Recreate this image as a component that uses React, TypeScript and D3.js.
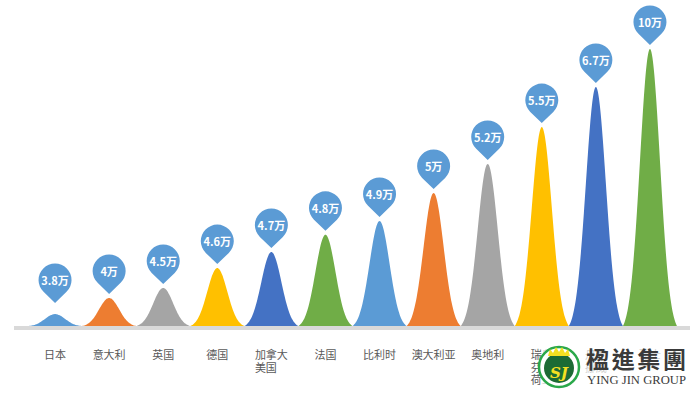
import React from 'react';
import * as d3 from 'd3';

const width = 696;
const height = 398;

// categories, value labels and the drawn peak level (0-100)
const countries = [
  '日本', '意大利', '英国', '德国', '加拿大美国', '法国',
  '比利时', '澳大利亚', '奥地利', '瑞典芬兰荷兰', '丹麦挪威', '瑞士'
];
const labelLines = [
  ['日本'], ['意大利'], ['英国'], ['德国'], ['加拿大', '美国'], ['法国'],
  ['比利时'], ['澳大利亚'], ['奥地利'], ['瑞典', '芬兰', '荷兰'], ['丹麦', '挪威'], ['瑞士']
];
const values = [3.8, 4, 4.5, 4.6, 4.7, 4.8, 4.9, 5, 5.2, 5.5, 6.7, 10];
const peakLevels = [4.3, 10.1, 13.7, 20.9, 26.7, 32.9, 37.9, 48, 58.5, 71.8, 86.3, 100];

const palette = ['#5b9bd5', '#ed7d31', '#a5a5a5', '#ffc000', '#4472c4', '#70ad47'];

const baseY = 326;
const font = '"Noto Sans CJK SC", "Noto Sans", sans-serif';

const x = d3.scaleBand<string>().domain(countries).range([28, 677]).padding(0);
const y = d3.scaleLinear().domain([0, 100]).range([baseY, 49]);

// bell shaped peak
const halfW = 27;
const sigma = 10;
const g = (t: number) => Math.exp(-(t * t) / (2 * sigma * sigma));
const g0 = g(halfW);
const offsets = d3.range(-halfW, halfW + 0.5, 1);

// map-pin shape
const pinR = 16.5;
const pinTip = 23;
const th = Math.acos(pinR / pinTip);
const px = pinR * Math.sin(th);
const py = pinR * Math.cos(th);
const pinPath = `M0,${pinTip} L${-px},${py} A${pinR},${pinR} 0 1 1 ${px},${py} Z`;

const fmt = (v: number) => `${v}万`;

const App = () => {
  return (
    <svg width={width} height={height} style={{ position: 'absolute', left: 0, top: 0, background: '#fff' }}>
      {/* baseline */}
      <rect x={14} y={baseY} width={676} height={4} fill="#d9d9d9" />

      {/* peaks */}
      {countries.map((c, i) => {
        const cx = (x(c) as number) + x.bandwidth() / 2;
        const area = d3.area<number>()
          .x(t => cx + t)
          .y0(baseY)
          .y1(t => y(peakLevels[i] * (g(t) - g0) / (1 - g0)))
          .curve(d3.curveMonotoneX);
        return <path key={c} d={area(offsets) || ''} fill={palette[i % palette.length]} />;
      })}

      {/* value pins */}
      {countries.map((c, i) => {
        const cx = (x(c) as number) + x.bandwidth() / 2;
        const cy = Math.min(y(peakLevels[i]) - 27, baseY - 46);
        return (
          <g key={c} transform={`translate(${cx},${cy})`}>
            <path d={pinPath} fill="#5b9bd5" />
            <text
              y={0}
              textAnchor="middle"
              dominantBaseline="central"
              fill="#fff"
              fontSize={11}
              fontWeight="bold"
              fontFamily={font}
            >
              {fmt(values[i])}
            </text>
          </g>
        );
      })}

      {/* category labels */}
      {countries.map((c, i) => {
        const cx = (x(c) as number) + x.bandwidth() / 2;
        const lines = labelLines[i];
        const w = lines[0].length * 11;
        return (
          <text key={c} fill="#595959" fontSize={11} fontFamily={font}>
            {lines.map((l, j) => (
              <tspan key={j} x={cx - w / 2} y={359 + j * 12.5}>{l}</tspan>
            ))}
          </text>
        );
      })}

      {/* logo */}
      <rect x={542} y={341} width={151} height={55} fill="#fff" opacity={0.7} />
      <g>
        <circle cx={559} cy={367} r={20} fill="#fff" stroke="#2aa84a" strokeWidth={2.5} />
        <circle cx={559} cy={368} r={15} fill="#1d6b35" />
        <path d="M548,356 L550,349 L553,353 L556,347 L559,352 L562,347 L565,353 L568,349 L570,356 Z" fill="#f5e022" />
        <text x={559} y={378} textAnchor="middle" fill="#f5e022" fontSize={15} fontWeight="bold" fontStyle="italic" fontFamily="DejaVu Serif, serif">SJ</text>
        <text x={586} y={368} fill="#3a3a3a" fontSize={23} fontWeight="bold" fontFamily='"Noto Sans CJK TC", serif' textLength={100} lengthAdjust="spacing">楹進集團</text>
        <text x={587} y={384} fill="#3a3a3a" fontSize={12.5} fontFamily='"Liberation Serif", "DejaVu Serif", serif' textLength={99} lengthAdjust="spacingAndGlyphs">YING JIN GROUP</text>
      </g>
    </svg>
  );
};

export default App;
